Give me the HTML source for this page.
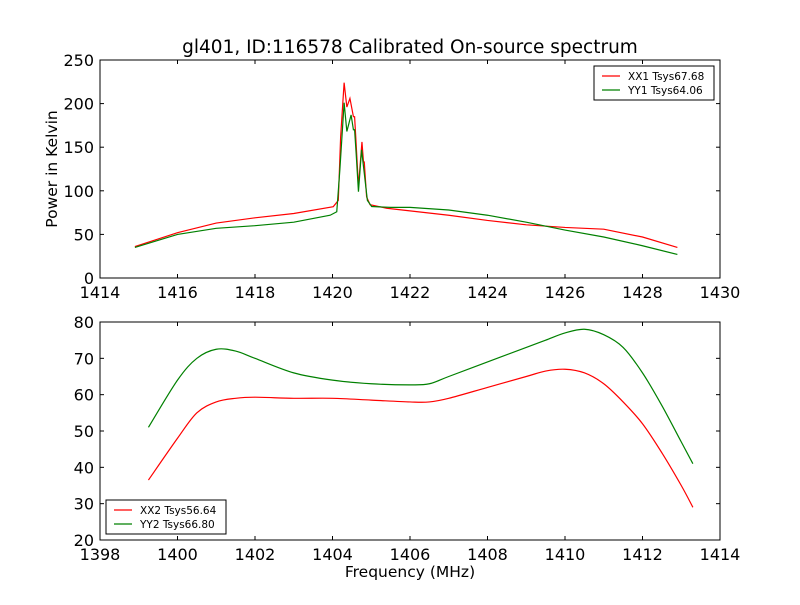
<!DOCTYPE html>
<html><head><meta charset="utf-8"><style>
body{margin:0;background:#fff;font-family:"Liberation Sans",sans-serif;}
svg text{font-family:"DejaVu Sans","Liberation Sans",sans-serif;}
</style></head><body>
<svg id="s" width="800" height="600" viewBox="0 0 800 600"></svg>
<script>
const topXX1 = [[1414.9,36],[1416,52],[1417,63],[1418,69],[1419,74],[1420.02,81.8],[1420.15,89],[1420.21,162],[1420.30,224],[1420.37,196],[1420.45,206],[1420.54,185],[1420.57,185],[1420.60,162],[1420.67,105],[1420.76,156],[1420.80,133],[1420.82,133],[1420.88,93],[1420.97,84],[1421.4,80],[1422,77],[1423,72],[1424,66],[1425,61],[1426,58],[1427,56],[1428,47],[1428.9,35]];
const topYY1 = [[1414.9,35],[1416,50],[1417,57],[1418,60],[1419,64],[1419.94,72],[1420.11,76],[1420.19,124],[1420.30,201],[1420.37,168],[1420.48,187],[1420.54,170],[1420.57,170],[1420.61,143],[1420.67,99],[1420.75,147],[1420.81,124],[1420.90,89],[1421.01,82],[1421.5,81],[1422,81],[1423,78],[1424,72],[1425,64],[1426,55],[1427,47],[1428,37],[1428.9,27]];
const botXX2 = [[1399.25,36.5],[1400,48],[1400.5,55],[1401,58],[1401.5,59],[1402,59.3],[1403,59],[1404,59],[1405,58.5],[1406,58],[1406.5,58],[1407,59],[1408,62],[1409,65],[1409.5,66.5],[1410,67],[1410.5,66],[1411,63],[1411.5,58],[1412,52],[1412.5,44],[1413,35],[1413.3,29]];
const botYY2 = [[1399.25,51],[1400,64],[1400.5,70],[1401,72.5],[1401.5,72],[1402,70],[1403,66],[1404,64],[1405,63],[1406,62.7],[1406.5,63],[1407,65],[1408,69],[1409,73],[1409.5,75],[1410,77],[1410.5,78],[1411,76.5],[1411.5,73],[1412,66],[1412.5,57],[1413,47],[1413.3,41]];
const topXTicks = [1414,1416,1418,1420,1422,1424,1426,1428,1430];
const topYTicks = [0,50,100,150,200,250];
const botXTicks = [1398,1400,1402,1404,1406,1408,1410,1412,1414];
const botYTicks = [20,30,40,50,60,70,80];

const NS="http://www.w3.org/2000/svg", S=document.getElementById('s');
function el(t,a,p){const e=document.createElementNS(NS,t);for(const k in a)e.setAttribute(k,a[k]);(p||S).appendChild(e);return e;}
function smoothPath(pts){
  let d='M'+pts[0][0].toFixed(2)+','+pts[0][1].toFixed(2);
  for(let i=0;i<pts.length-1;i++){
    const p0=pts[Math.max(i-1,0)],p1=pts[i],p2=pts[i+1],p3=pts[Math.min(i+2,pts.length-1)];
    const c1x=p1[0]+(p2[0]-p0[0])/6,c1y=p1[1]+(p2[1]-p0[1])/6,c2x=p2[0]-(p3[0]-p1[0])/6,c2y=p2[1]-(p3[1]-p1[1])/6;
    d+=' C'+c1x.toFixed(2)+','+c1y.toFixed(2)+' '+c2x.toFixed(2)+','+c2y.toFixed(2)+' '+p2[0].toFixed(2)+','+p2[1].toFixed(2);
  }
  return d;
}
function panel(name,x0,x1,y0,y1,xmin,xmax,ymin,ymax,xt,yt,series,legend,smooth){
  const g=el('g',{});
  
  
  const X=v=>x0+(v-xmin)/(xmax-xmin)*(x1-x0), Y=v=>y1-(v-ymin)/(ymax-ymin)*(y1-y0);
  series.forEach(s=>{
    const pts=s.d.map(d=>[X(d[0]),Y(d[1])]);
    let p;
    if(smooth) p=el('path',{d:smoothPath(pts),fill:'none',stroke:s.c,'stroke-width':1.2},g);
    else p=el('polyline',{points:pts.map(q=>q[0].toFixed(2)+','+q[1].toFixed(2)).join(' '),fill:'none',stroke:s.c,'stroke-width':1.2},g);
    
    
  });
  const fr=el('rect',{x:x0,y:y0,width:x1-x0,height:y1-y0,fill:'none',stroke:'#000','stroke-width':1},g);
  
  
  xt.forEach(v=>{const x=X(v);
    el('line',{x1:x,x2:x,y1:y1,y2:y1-4,stroke:'#000'},g);el('line',{x1:x,x2:x,y1:y0,y2:y0+4,stroke:'#000'},g);
    const t=el('text',{x:x,y:y1+20,'font-size':16,'text-anchor':'middle'},g);t.textContent=v;
    
    });
  yt.forEach(v=>{const y=Y(v);
    el('line',{x1:x0,x2:x0+4,y1:y,y2:y,stroke:'#000'},g);el('line',{x1:x1,x2:x1-4,y1:y,y2:y,stroke:'#000'},g);
    const t=el('text',{x:x0-6,y:y+6,'font-size':16,'text-anchor':'end'},g);t.textContent=v;
    
    });
  const lg=el('g',{},g);
  
  
  el('rect',{x:legend.x,y:legend.y,width:120,height:34,fill:'#fff',stroke:'#000'},lg);
  series.forEach((s,i)=>{const yy=legend.y+10+i*14;
    el('line',{x1:legend.x+8,x2:legend.x+26,y1:yy,y2:yy,stroke:s.c,'stroke-width':1.2},lg);
    const t=el('text',{x:legend.x+34,y:yy+4,'font-size':10.5},lg);t.textContent=s.label;
    
    });
}
panel('top-panel',100,720,60,278,1414,1430,0,250,topXTicks,topYTicks,
 [{n:'xx1',c:'#ff0000',d:topXX1,label:'XX1 Tsys67.68'},{n:'yy1',c:'#008000',d:topYY1,label:'YY1 Tsys64.06'}],{x:594,y:66},false);
panel('bottom-panel',100,720,322,540,1398,1414,20,80,botXTicks,botYTicks,
 [{n:'xx2',c:'#ff0000',d:botXX2,label:'XX2 Tsys56.64'},{n:'yy2',c:'#008000',d:botYY2,label:'YY2 Tsys66.80'}],{x:106,y:500},true);
let t=el('text',{x:410,y:53,'font-size':18.5,'text-anchor':'middle'});t.textContent='gl401, ID:116578 Calibrated On-source spectrum';


t=el('text',{x:0,y:0,'font-size':15.5,'text-anchor':'middle',transform:'translate(57,169) rotate(-90)'});t.textContent='Power in Kelvin';


t=el('text',{x:410,y:577,'font-size':15.5,'text-anchor':'middle'});t.textContent='Frequency (MHz)';


</script>
</body></html>
